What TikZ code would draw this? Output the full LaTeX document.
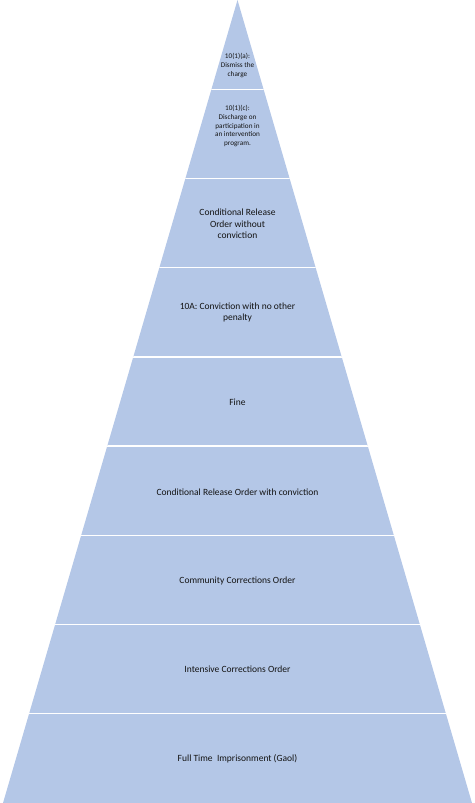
\documentclass[tikz,border=0pt]{standalone}
\usepackage{fontspec}
\setmainfont{Carlito}
\usepackage{tikz}
\usetikzlibrary{positioning}
\definecolor{tierfill}{HTML}{B4C7E7}
\definecolor{tierink}{HTML}{141414}

\begin{document}
\begin{tikzpicture}[
    x=1pt, y=-1pt,
    tier/.style={
        fill=tierfill
    },
    divider/.style={
        draw=white,
        line width=1.4pt
    },
    caption/.style={
        text=tierink,
        align=center,
        inner sep=0pt,
        font=\fontsize{9.5}{11.3}\selectfont
    },
    smallcaption/.style={
        caption,
        font=\fontsize{7.2}{8.7}\selectfont
    }
]
    \useasboundingbox (0,0) rectangle (474,803);

    % Pyramid body
    \coordinate (apex) at (237.5,0);
    \coordinate (baseleft) at (3,803);
    \coordinate (baseright) at (472,803);
    \fill[tier] (apex) -- (baseleft) -- (baseright) -- cycle;

    % Dividers between the tiers
    \begin{scope}
        \clip (apex) -- (baseleft) -- (baseright) -- cycle;
        \foreach \k in {1,...,8}
            \draw[divider] (0,{\k*89.22}) -- (474,{\k*89.22});
    \end{scope}

    % Tier captions, top to bottom
    \node[smallcaption] (dismiss) at (237.5,65.5) {10(1)(a):\\Dismiss the\\charge};
    \node[smallcaption] (discharge) at (237.5,126) {10(1)(c):\\Discharge on\\participation in\\an intervention\\program.};
    \node[caption] (crowithout) at (237.5,224) {Conditional Release\\Order without\\conviction};
    \node[caption] (tenA) at (237.5,312.5) {10A: Conviction with no other\\penalty};
    \node[caption] (fine) at (237.5,402) {Fine};
    \node[caption] (crowith) at (237.5,492) {Conditional Release Order with conviction};
    \node[caption] (cco) at (237.5,580.5) {Community Corrections Order};
    \node[caption] (ico) at (237.5,669.5) {Intensive Corrections Order};
    \node[caption] (gaol) at (237.5,759) {Full Time\ \ Imprisonment (Gaol)};
\end{tikzpicture}
\end{document}
